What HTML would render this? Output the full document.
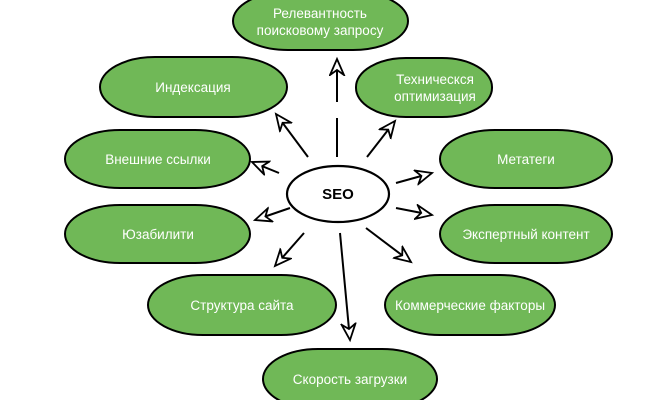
<!DOCTYPE html>
<html><head><meta charset="utf-8"><style>
html,body{margin:0;padding:0;background:#fff;width:670px;height:400px;overflow:hidden}
svg{display:block}
text{font-family:"Liberation Sans",sans-serif;font-size:13.5px;fill:#fff;text-anchor:middle}
</style></head><body>
<svg width="670" height="400" viewBox="0 0 670 400">
<defs>
<marker id="a" markerWidth="20" markerHeight="18" refX="17" refY="8" orient="auto" markerUnits="userSpaceOnUse">
<path d="M1,1 L17,8 L1,15 L6,8 Z" fill="#fff" stroke="#000" stroke-width="1.8"/>
</marker>
</defs>
<g fill="#70b857" stroke="#000" stroke-width="2">
<rect x="233" y="-8" width="175" height="58" rx="55" ry="29"/>
<rect x="356" y="58" width="136" height="59" rx="50" ry="29"/>
<rect x="100" y="57" width="187" height="60" rx="55" ry="30"/>
<rect x="65" y="130" width="185" height="58" rx="55" ry="29"/>
<rect x="440" y="130" width="172" height="58" rx="55" ry="29"/>
<rect x="65" y="205" width="185" height="58" rx="55" ry="29"/>
<rect x="440" y="205" width="172" height="58" rx="55" ry="29"/>
<rect x="148" y="275" width="188" height="60" rx="55" ry="30"/>
<rect x="385" y="275" width="170" height="60" rx="55" ry="30"/>
<rect x="263" y="349" width="174" height="60" rx="55" ry="30"/>
</g>
<ellipse cx="338" cy="194" rx="51" ry="28" fill="#fff" stroke="#000" stroke-width="2.2"/>
<text x="338" y="199" style="fill:#000;font-weight:bold;font-size:15px">SEO</text>
<text x="320" y="18">Релевантность</text>
<text x="320" y="35">поисковому запросу</text>
<text x="435" y="84">Техническся</text>
<text x="435" y="101">оптимизация</text>
<text x="193" y="92">Индексация</text>
<text x="158" y="164">Внешние ссылки</text>
<text x="526" y="164">Метатеги</text>
<text x="158" y="239">Юзабилити</text>
<text x="526" y="239">Экспертный контент</text>
<text x="242" y="310">Структура сайта</text>
<text x="470" y="310">Коммерческие факторы</text>
<text x="350" y="384">Скорость загрузки</text>
<g stroke="#000" stroke-width="2" fill="none">
<line x1="337" y1="157" x2="337" y2="118"/>
<line x1="337" y1="102" x2="337" y2="59" marker-end="url(#a)"/>
<line x1="367" y1="157" x2="395" y2="121" marker-end="url(#a)"/>
<line x1="308" y1="157" x2="276" y2="114" marker-end="url(#a)"/>
<line x1="279" y1="173" x2="252" y2="162" marker-end="url(#a)"/>
<line x1="396" y1="183" x2="432" y2="173" marker-end="url(#a)"/>
<line x1="396" y1="208" x2="432" y2="215" marker-end="url(#a)"/>
<line x1="290" y1="208" x2="255" y2="220" marker-end="url(#a)"/>
<line x1="304" y1="233" x2="275" y2="266" marker-end="url(#a)"/>
<line x1="340" y1="233" x2="350" y2="340" marker-end="url(#a)"/>
<line x1="366" y1="228" x2="411" y2="262" marker-end="url(#a)"/>
</g>
</svg>
</body></html>
